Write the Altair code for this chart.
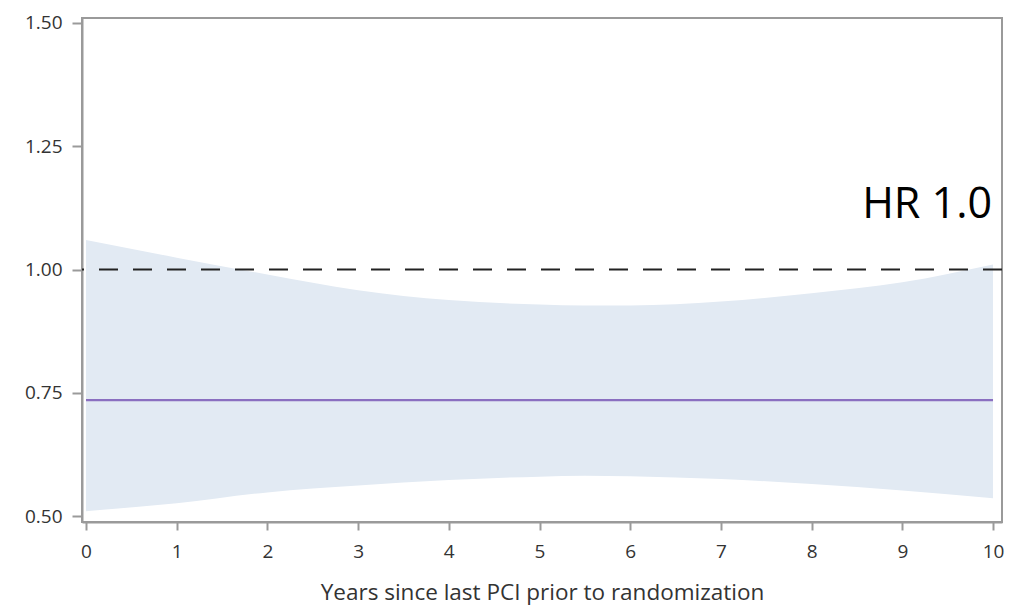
import altair as alt
import pandas as pd

# Data
years = [0, 1, 2, 3, 4, 5, 5.5, 6, 7, 8, 9, 10]
upper = [1.060, 1.024, 0.990, 0.958, 0.938, 0.929, 0.927, 0.927, 0.935, 0.952, 0.974, 1.010]
lower = [0.510, 0.526, 0.548, 0.562, 0.573, 0.580, 0.582, 0.581, 0.575, 0.565, 0.552, 0.536]
hr_years = [0, 10]
hr_values = [0.735, 0.735]
ref_value = [1.0]
label_text = ["HR 1.0"]
label_x = [10]
label_y = [1.105]

x_ticks = [0, 1, 2, 3, 4, 5, 6, 7, 8, 9, 10]
y_ticks = [0.5, 0.75, 1.0, 1.25, 1.5]

band_df = pd.DataFrame({"year": years, "upper": upper, "lower": lower})
line_df = pd.DataFrame({"year": hr_years, "hr": hr_values})
ref_df = pd.DataFrame({"ref": ref_value})
txt_df = pd.DataFrame({"x": label_x, "y": label_y, "t": label_text})

FONT = "Open Sans"
xscale = alt.Scale(domain=[-0.044, 10.099], nice=False, zero=False)
yscale = alt.Scale(domain=[0.488, 1.51], nice=False, zero=False)

xaxis = alt.Axis(
    values=x_ticks, format="d", title="Years since last PCI prior to randomization",
    grid=False, domainColor="#9a9a9a", domainWidth=2, tickColor="#9a9a9a", tickWidth=2,
    tickSize=8, labelFont=FONT, labelFontSize=19, labelColor="#333333", labelPadding=12,
    titleFont=FONT, titleFontSize=22.5, titleFontWeight="normal", titleColor="#333333",
    titlePadding=20,
)
yaxis = alt.Axis(
    values=y_ticks, format=".2f", title=None,
    grid=False, domainColor="#9a9a9a", domainWidth=2, tickColor="#9a9a9a", tickWidth=2,
    tickSize=10, labelFont=FONT, labelFontSize=19, labelColor="#333333", labelPadding=10,
)

band = alt.Chart(band_df).mark_area(color="#e2eaf3", opacity=1, interpolate="monotone").encode(
    x=alt.X("year:Q", scale=xscale, axis=xaxis),
    y=alt.Y("upper:Q", scale=yscale, axis=yaxis),
    y2="lower:Q",
)

line = alt.Chart(line_df).mark_line(color="#8a6fc0", strokeWidth=2.2).encode(
    x=alt.X("year:Q", scale=xscale),
    y=alt.Y("hr:Q", scale=yscale),
)

ref = alt.Chart(ref_df).mark_rule(color="#222222", strokeWidth=2, strokeDash=[19, 15]).encode(
    y=alt.Y("ref:Q", scale=yscale),
)

txt = alt.Chart(txt_df).mark_text(
    font=FONT, fontSize=43, color="#000000", align="right", baseline="alphabetic", dx=-1
).encode(
    x=alt.X("x:Q", scale=xscale),
    y=alt.Y("y:Q", scale=yscale),
    text="t:N",
)

chart = alt.layer(band, line, ref, txt).properties(
    width=920, height=504,
    autosize=alt.AutoSizeParams(type="none"),
    padding={"left": 74, "top": 10, "right": 4, "bottom": 85},
).configure_view(stroke="#9a9a9a", strokeWidth=2)

chart.save("out.html", embed_options={"renderer": "svg", "actions": False})
